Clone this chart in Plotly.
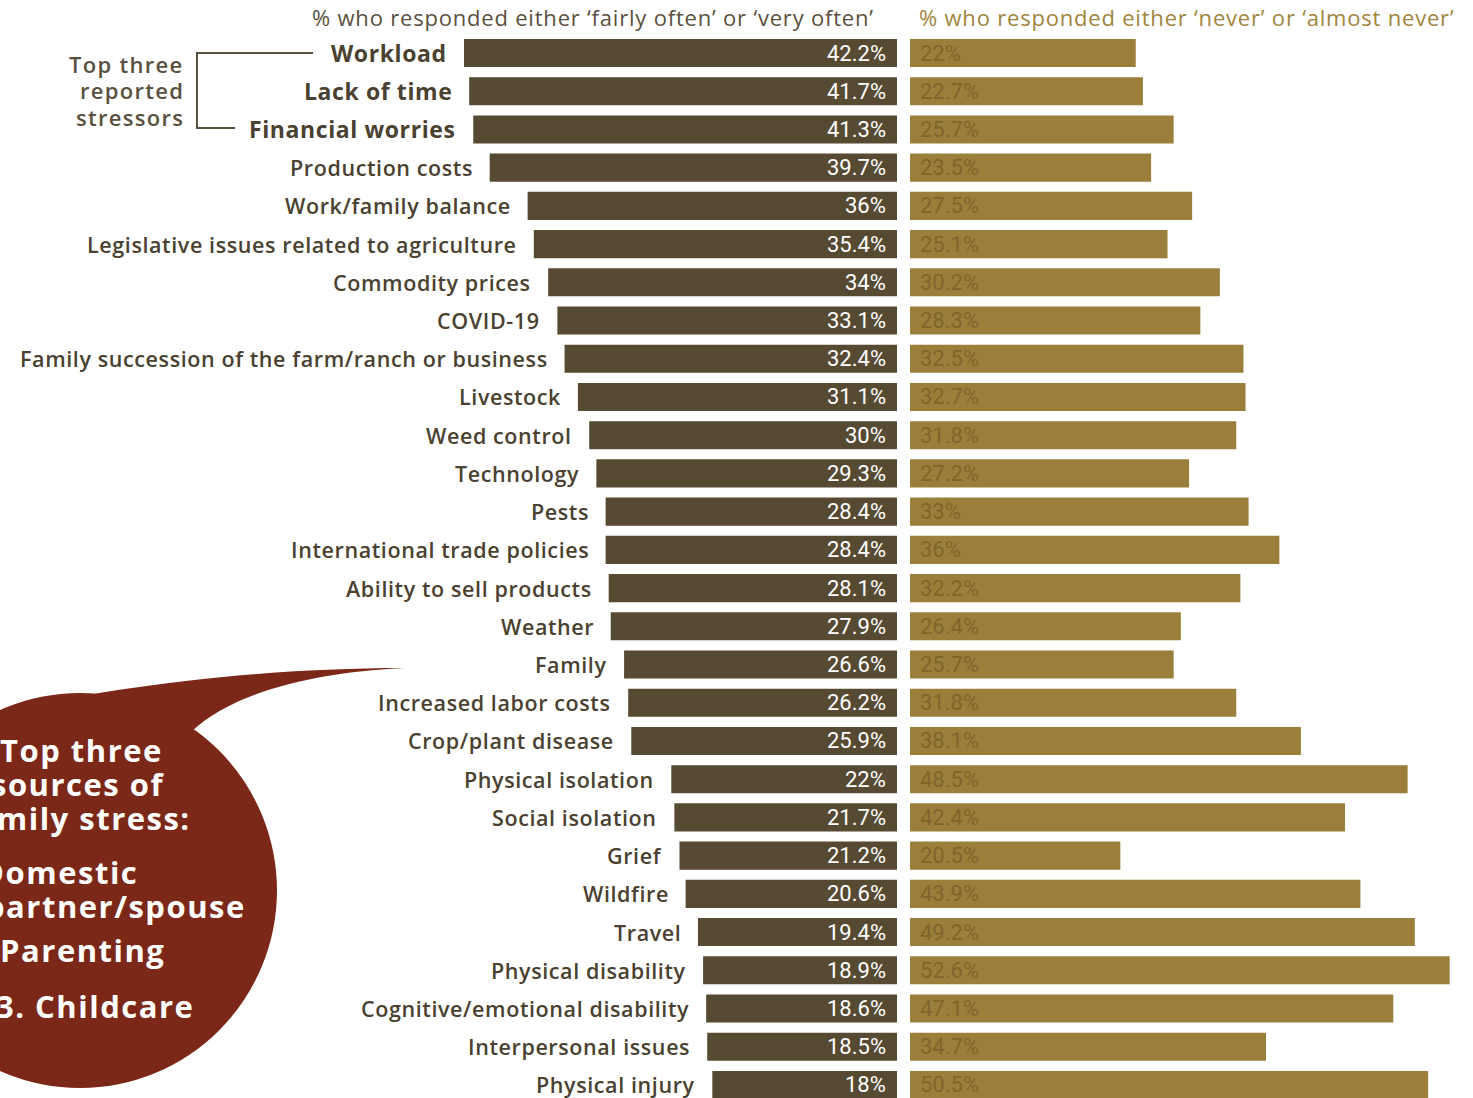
import plotly.graph_objects as go

categories = ["Workload", "Lack of time", "Financial worries", "Production costs",
              "Work/family balance", "Legislative issues related to agriculture",
              "Commodity prices", "COVID-19", "Family succession of the farm/ranch or business",
              "Livestock", "Weed control", "Technology", "Pests", "International trade policies",
              "Ability to sell products", "Weather", "Family", "Increased labor costs",
              "Crop/plant disease", "Physical isolation", "Social isolation", "Grief",
              "Wildfire", "Travel", "Physical disability", "Cognitive/emotional disability",
              "Interpersonal issues", "Physical injury"]
often_pct = [42.2, 41.7, 41.3, 39.7, 36, 35.4, 34, 33.1, 32.4, 31.1, 30, 29.3, 28.4, 28.4,
             28.1, 27.9, 26.6, 26.2, 25.9, 22, 21.7, 21.2, 20.6, 19.4, 18.9, 18.6, 18.5, 18]
never_pct = [22, 22.7, 25.7, 23.5, 27.5, 25.1, 30.2, 28.3, 32.5, 32.7, 31.8, 27.2, 33, 36,
             32.2, 26.4, 25.7, 31.8, 38.1, 48.5, 42.4, 20.5, 43.9, 49.2, 52.6, 47.1, 34.7, 50.5]
left_title = "% who responded either ‘fairly often’ or ‘very often’"
right_title = "% who responded either ‘never’ or ‘almost never’"
bracket_lines = ["Top three", "reported", "stressors"]
bubble_lines = ["Top three", "sources of", "family stress:", "1. Domestic",
                "partner/spouse", "2. Parenting", "3. Childcare"]

W, H = 1473, 1098
PXPCT = 10.26
ROW = 38.22
Y0 = 53

DARK = "#574a33"
GOLD = "#9c7e3b"
GOLD_TXT = "#80652a"
LABEL = "#4a4131"
RED = "#7b2818"
FONT = "Open Sans"

def px(x, y):
    return x / W, 1 - y / H

def spaced(t, ls):
    return f'<span style="letter-spacing:{ls}px">{t}</span>'

idx = list(range(len(categories)))

fig = go.Figure()
fig.add_trace(go.Bar(y=idx, x=often_pct, orientation="h", xaxis="x", yaxis="y",
                     marker=dict(color=DARK, line=dict(width=0)), width=0.735,
                     hoverinfo="skip"))
fig.add_trace(go.Bar(y=idx, x=never_pct, orientation="h", xaxis="x2", yaxis="y",
                     marker=dict(color=GOLD, line=dict(width=0)), width=0.735,
                     hoverinfo="skip"))

annotations = []
for i, (c, a, b) in enumerate(zip(categories, often_pct, never_pct)):
    top3 = i < 3
    annotations.append(dict(xref="x", yref="y", x=a, y=i, text=spaced(c, 0.6), showarrow=False,
                            xanchor="right", yanchor="middle", xshift=-15,
                            font=dict(family=FONT, size=23 if top3 else 21.5,
                                      color=LABEL, weight=700 if top3 else 600)))
    annotations.append(dict(xref="x", yref="y", x=0, y=i, text=f"{a:g}%", showarrow=False,
                            xanchor="right", yanchor="middle", xshift=-9,
                            font=dict(family="Roboto", size=22, color="white")))
    annotations.append(dict(xref="x2", yref="y", x=0, y=i, text=f"{b:g}%", showarrow=False,
                            xanchor="left", yanchor="middle", xshift=8,
                            font=dict(family="Roboto", size=22, color=GOLD_TXT)))

tx, ty = px(593, 17)
annotations.append(dict(xref="paper", yref="paper", x=tx, y=ty, text=spaced(left_title, 0.8),
                        showarrow=False, xanchor="center", yanchor="middle",
                        font=dict(family=FONT, size=22, color="#5a5040")))
tx, ty = px(1186, 17)
annotations.append(dict(xref="paper", yref="paper", x=tx, y=ty, text=spaced(right_title, 0.8),
                        showarrow=False, xanchor="center", yanchor="middle",
                        font=dict(family=FONT, size=22, color="#a08540")))

for line, yy in zip(bracket_lines, [64, 90, 117]):
    bx, by = px(186, yy)
    annotations.append(dict(xref="paper", yref="paper", x=bx, y=by, text=spaced(line, 1.3),
                            showarrow=False, xanchor="right", yanchor="middle",
                            font=dict(family=FONT, size=22, color="#5a5040", weight=600)))

bubble_pos = [(165, 750), (166, 784), (193, 818), (140, 872), (248, 906), (167, 950), (196, 1006)]
for line, (ex, ey) in zip(bubble_lines, bubble_pos):
    bx, by = px(ex, ey)
    annotations.append(dict(xref="paper", yref="paper", x=bx, y=by, text=spaced(line, 1.5),
                            showarrow=False, xanchor="right", yanchor="middle",
                            font=dict(family=FONT, size=31, color="white", weight=700)))

shapes = []
# bracket
pts = [(313, 53), (197, 53), (197, 128), (235, 128)]
path = "M " + " L ".join(f"{px(x, y)[0]},{px(x, y)[1]}" for x, y in pts)
shapes.append(dict(type="path", xref="paper", yref="paper", path=path,
                   line=dict(color="#5a5040", width=2)))
# bubble circle
x0, y0 = px(-117, 1088)
x1, y1 = px(277, 693)
shapes.append(dict(type="circle", xref="paper", yref="paper", x0=x0, y0=y0, x1=x1, y1=y1,
                   fillcolor=RED, line=dict(width=0), layer="below"))
# bubble tail
def P(x, y):
    a, b = px(x, y)
    return f"{a},{b}"
tail = (f"M {P(0, 712)} C {P(110, 688)} {P(250, 668)} {P(405, 668)} "
        f"C {P(320, 672)} {P(235, 690)} {P(190, 733)} Z")
shapes.append(dict(type="path", xref="paper", yref="paper", path=tail,
                   fillcolor=RED, line=dict(width=0), layer="below"))

fig.update_layout(
    width=W, height=H,
    margin=dict(l=0, r=0, t=0, b=0),
    paper_bgcolor="white", plot_bgcolor="white",
    showlegend=False,
    xaxis=dict(domain=[0, 897 / W], range=[897 / PXPCT, 0], visible=False, fixedrange=True),
    xaxis2=dict(domain=[910 / W, 1], range=[0, (W - 910) / PXPCT], visible=False,
                fixedrange=True),
    yaxis=dict(range=[(H - Y0) / ROW, -Y0 / ROW], visible=False, fixedrange=True),
    annotations=annotations,
    shapes=shapes,
)

fig.write_html("out.html")
